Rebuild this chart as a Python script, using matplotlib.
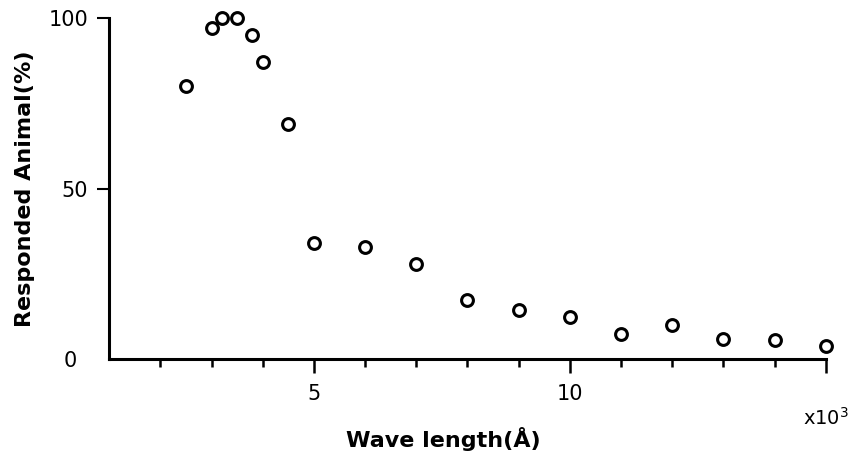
import numpy as np

import matplotlib.pyplot as plt

#values, wave length in units of 10^3 A
wave = [2.5, 3.0, 3.2, 3.5, 3.8, 4.0, 4.5, 5.0, 6.0, 7.0, 8.0, 9.0, 10.0, 11.0, 12.0, 13.0, 14.0, 15.0]
responded = [80, 97, 100, 100, 95, 87, 69, 34, 33, 28, 17.5, 14.5, 12.5, 7.5, 10, 6, 5.5, 4]

x_major = [5, 10, 15]
x_major_labels = ["5", "10", ""]
x_minor = [2, 3, 4, 6, 7, 8, 9, 11, 12, 13, 14]
y_ticks = [0, 50, 100]

fig = plt.figure(figsize=(8.53, 4.53), dpi=100)
ax = fig.add_axes([0.128, 0.207, 0.84, 0.753])

ax.plot(wave, responded, 'o', mfc='white', mec='black', ms=8.5, mew=2.2, clip_on=False, zorder=5)

ax.set_xlim(1, 15)
ax.set_ylim(0, 100)

ax.spines['top'].set_visible(False)
ax.spines['right'].set_visible(False)
ax.spines['left'].set_linewidth(2.2)
ax.spines['bottom'].set_linewidth(2.2)

ax.set_xticks(x_major)
ax.set_xticklabels(x_major_labels)
ax.set_xticks(x_minor, minor=True)
ax.set_yticks(y_ticks)
ax.tick_params(axis='x', which='major', direction='out', length=10, width=1.8, labelsize=15, pad=8)
ax.tick_params(axis='x', which='minor', direction='out', length=6, width=1.8)
ax.tick_params(axis='y', direction='out', length=9, width=1.5, labelsize=15, pad=6)
tick0 = ax.yaxis.get_major_ticks()[0]
tick0.tick1line.set_visible(False)  #no mark at 0
tick0.set_pad(14)

ax.set_ylabel("Responded Animal(%)", fontsize=16, fontweight='bold')
ax.yaxis.set_label_coords(-0.103, 0.5)
ax.set_xlabel("Wave length(Å)", fontsize=16, fontweight='bold')
ax.xaxis.set_label_coords(0.466, -0.2)
fig.text(826/853, 1-418/453, "x10$^3$", ha='center', va='center', fontsize=14)

plt.savefig("out.png", dpi=100)
